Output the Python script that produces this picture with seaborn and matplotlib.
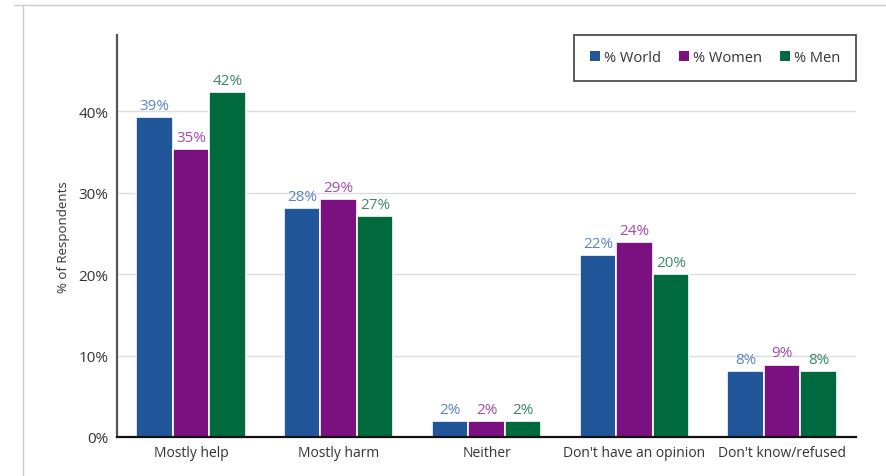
import matplotlib
matplotlib.use("Agg")
import matplotlib.pyplot as plt
import seaborn as sns
import pandas as pd
from matplotlib.lines import Line2D
from matplotlib.patches import Patch

categories = ["Mostly help", "Mostly harm", "Neither", "Don't have an opinion", "Don't know/refused"]
world = [39.3, 28.1, 2.0, 22.4, 8.1]
women = [35.4, 29.2, 2.0, 24.0, 8.9]
men = [42.4, 27.1, 2.0, 20.0, 8.1]
series_names = ["% World", "% Women", "% Men"]
labels_world = ["39%", "28%", "2%", "22%", "8%"]
labels_women = ["35%", "29%", "2%", "24%", "9%"]
labels_men = ["42%", "27%", "2%", "20%", "8%"]

bar_colors = ["#21569B", "#7B1180", "#006A3F"]
text_colors = ["#5B84C0", "#A44BA9", "#3A8A65"]

rows = []
for s, vals in zip(series_names, [world, women, men]):
    for c, v in zip(categories, vals):
        rows.append({"Category": c, "Series": s, "Value": v})
df = pd.DataFrame(rows)

sns.set_theme(style="white")
plt.rcParams['font.family'] = ['Open Sans', 'DejaVu Sans']

fig = plt.figure(figsize=(8.86, 4.77), dpi=100)
ax = fig.add_axes([117/886, 1 - 438/477, (856-117)/886, (438-36)/477])

sns.barplot(data=df, x="Category", y="Value", hue="Series", order=categories,
            hue_order=series_names, palette=bar_colors, width=0.74,
            edgecolor="white", linewidth=1.2, saturation=1, ax=ax, legend=False)

ax.set_ylim(0, 49.4)
ax.set_yticks([0, 10, 20, 30, 40])
ax.set_yticklabels(["0%", "10%", "20%", "30%", "40%"], fontsize=11, color="#333333")
ax.tick_params(axis="x", labelsize=10, colors="#333333", length=0, pad=6)
ax.tick_params(axis="y", length=0, pad=6)
ax.yaxis.grid(True, color="#DDDDDD", linewidth=1)
ax.set_axisbelow(True)
ax.set_xlabel("")
ax.set_ylabel("% of Respondents", fontsize=9.5, color="#333333", labelpad=6)

for sp in ["top", "right"]:
    ax.spines[sp].set_visible(False)
ax.spines["left"].set_color("#555555")
ax.spines["left"].set_linewidth(1.6)
ax.spines["bottom"].set_color("#111111")
ax.spines["bottom"].set_linewidth(1.6)

all_labels = [labels_world, labels_women, labels_men]
for i, cont in enumerate(ax.containers):
    ax.bar_label(cont, labels=all_labels[i], padding=3, fontsize=11, color=text_colors[i])

handles = [Patch(facecolor=c, edgecolor="none") for c in bar_colors]
leg = ax.legend(handles, series_names, loc="upper right", bbox_to_anchor=(1.0, 1.0),
                borderaxespad=0.0,
                ncol=3, frameon=True, fontsize=10.5, handlelength=0.7, handleheight=0.7,
                handletextpad=0.3, columnspacing=1.2, borderpad=1.05, fancybox=False)
leg.get_frame().set_edgecolor("#222222")
leg.get_frame().set_linewidth(1.3)
for t in leg.get_texts():
    t.set_color("#333333")

# outer light frame
fig.add_artist(Line2D([14/886, 1], [1 - 6/477, 1 - 6/477], color="#CCCCCC", linewidth=1))
fig.add_artist(Line2D([23/886, 23/886], [0, 1 - 6/477], color="#CCCCCC", linewidth=1))

fig.savefig("out.png", dpi=100)
